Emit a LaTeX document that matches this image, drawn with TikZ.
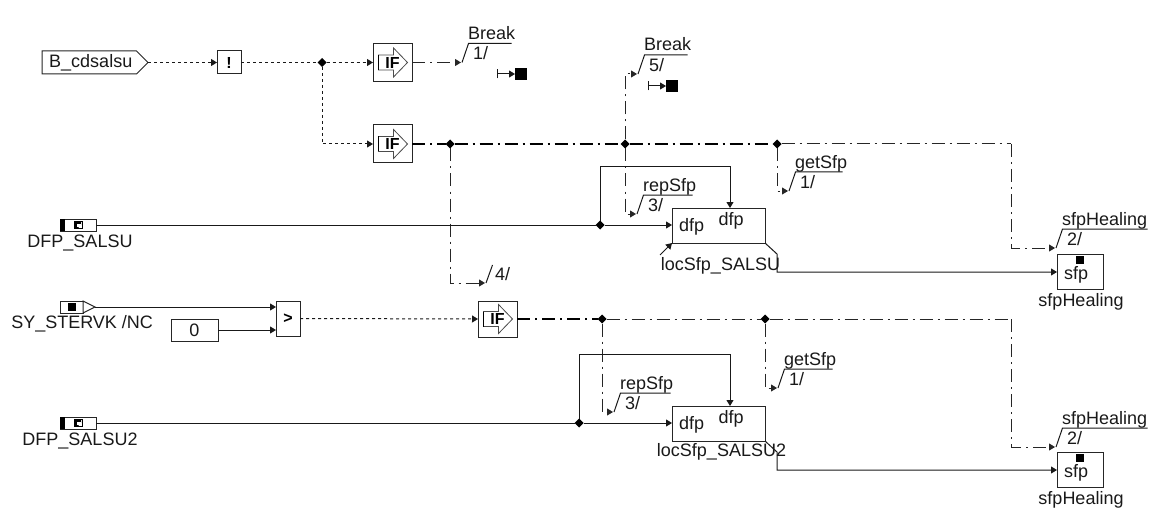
\documentclass[tikz,border=0pt]{standalone}
\usepackage{fontspec}
\setmainfont{Liberation Sans}
\usetikzlibrary{calc,arrows.meta,shapes.symbols,shapes.geometric}
\tikzset{
 fn wire/.style={line width=1pt,draw=black!90},
 fn flow/.style={line width=1pt,draw=black!90,dash pattern=on 3pt off 3pt},
 fn ctrl/.style={line width=1pt,draw=black!85,dash pattern=on 13pt off 5pt on 2pt off 5pt},
 fn bus/.style={fn ctrl,line width=1.4pt,draw=black},
 fn tip/.style={-{Triangle[length=6pt,width=7pt]}},
 fn box/.style={draw=black!85,line width=1pt,fill=white,inner sep=0pt,outer sep=0pt},
 fn junction/.style={diamond,fill=black,minimum size=9pt,inner sep=0pt,outer sep=0pt},
 fn label/.style={font=\fontsize{18}{20}\selectfont,text=black!90,inner sep=0pt,outer sep=0pt},
 fn bold/.style={font=\bfseries\fontsize{16}{18}\selectfont,text=black,inner sep=0pt},
 fn stop/.style={fill=black,minimum size=12pt,inner sep=0pt,outer sep=0pt}
}
% the IF arrow inside a switch box
\newcommand{\ifbox}[3]{%
 \node[fn box,minimum width=39pt,minimum height=#3pt] (#1) at (#2) {};
 \draw[black!70,line width=.8pt,fill=white]
   ($(#1)+(-14,-7.5)$)--($(#1)+(1,-7.5)$)--($(#1)+(1,-14.5)$)--($(#1)+(15,0)$)
   --($(#1)+(1,14.5)$)--($(#1)+(1,7.5)$)--($(#1)+(-14,7.5)$)--cycle;
 \draw[black,line width=1.5pt] ($(#1)+(-14,-7.5)$)--($(#1)+(-14,7.5)$);
 \node[fn bold] at (#1) {IF};
}
\begin{document}
\begin{tikzpicture}[x=1pt,y=-1pt]
 \useasboundingbox (0,0) rectangle (1150,513);
 % inputs
 \node[fn box,signal,signal to=east,signal pointer angle=90,minimum width=106pt,
       minimum height=23pt,fn label,anchor=west] (cdsalsu) at (42,62.5) {\hspace{3pt}B\_cdsalsu};
 \node[fn box,fn bold,minimum width=24pt,minimum height=23pt] (notop) at (229,62.5) {!};
 \draw[fn box] (60,301) rectangle (83,313);
 \draw[fn box] (83,301) -- (95,307) -- (83,313) -- cycle;
 \coordinate (sytip) at (95,307);
 \node[fill=black,minimum size=8pt,inner sep=0pt] (sydot) at (72,307) {};
 \node[fn label,anchor=east] (sylab) at (153,324) {SY\_STERVK /NC};
 \node[fn box,fn label,minimum width=47pt,minimum height=22pt] (zero) at (194.5,330) {0};
 \node[fn box,fn bold,minimum width=24pt,minimum height=35pt] (gtop) at (288,318.5) {>};
 \foreach \n/\y/\t in {salsu/225/DFP\_SALSU,salsub/423/DFP\_SALSU2}{
   \node[fn box,minimum width=36pt,minimum height=12pt] (dfp\n) at (78,\y) {};
   \fill (60,\y-6) rectangle (65,\y+6);
   \draw[black,line width=1pt,fill=white] (74,\y-3.5) rectangle (82,\y+3.5);
   \fill (75,\y-3) -- (81,\y-3) -- (81,\y) -- (78,\y+3) -- (75,\y+3) -- cycle;
   \fill[white] (77,\y-1) rectangle (81,\y+1.5);
   \node[fn label] (lab\n) at (80,\y+18) {\t};
 }
 % switches
 \ifbox{ifa}{392.5,62.5}{38}
 \ifbox{ifb}{392.5,144}{38}
 \ifbox{ifc}{497.5,319}{36}
 % hierarchy marks
 \foreach \n/\x/\y/\w/\t/\k in {brka/461/62.5/43/Break/1,brkb/637/74/43/Break/5,
     geta/788/191/47/getSfp/1,repa/636/214/49/repSfp/3,sfpa/1055/248/85/sfpHealing/2,
     getb/777/388/48/getSfp/1,repb/613/412/50/repSfp/3,sfpb/1055/447/85/sfpHealing/2}{
   \coordinate (h\n) at (\x,\y);
   \draw[fn wire] (\x+1,\y) -- (\x+7.5,\y-19) -- (\x+7.5+\w,\y-19);
   \node[fn label,anchor=base west] (t\n) at (\x+7,\y-23) {\t};
   \node[fn label,anchor=west] (k\n) at (\x+12,\y-9) {\k/};
 }
 \coordinate (hfour) at (485,283);
 \draw[fn wire] (486,283) -- (492.5,265);
 \node[fn label,anchor=west] (kfour) at (495,274) {4/};
 % stops
 \foreach \n/\x/\y in {a/521/74,b/672/86}{
   \node[fn stop] (stop\n) at (\x,\y) {};
   \coordinate (bar\n) at (\x-24,\y);
   \draw[fn wire,{Bar[width=9pt,length=0pt]}-{Triangle[length=6pt,width=7pt]}] (bar\n) -- (stop\n.west);
 }
 % junctions
 \coordinate (rima) at (1011,144);
 \coordinate (rimb) at (1011,319);
 \foreach \n/\x/\y in {ja/322/62.5,jb/450/144,jc/625/144,jd/777/144,je/600/225,
                       jf/602/319,jg/765/319,jh/579/423}{
   \node[fn junction] (\n) at (\x,\y) {};
 }
 % control flow
 \draw[fn ctrl,fn tip] (ifa.east) -- (hbrka);
 \draw[fn ctrl] (jd) -- (rima);
 \draw[fn ctrl,fn tip] (rima) |- (hsfpa);
 \draw[fn ctrl,fn tip] (jb) |- (hfour);
 \draw[fn ctrl,fn tip] (jc) |- (hbrkb);
 \draw[fn ctrl,fn tip] (jc) |- (hrepa);
 \draw[fn ctrl,fn tip] (jd) |- (hgeta);
 \draw[fn ctrl] (jg) -- (rimb);
 \draw[fn ctrl,fn tip] (rimb) |- (hsfpb);
 \draw[fn ctrl,fn tip] (jf) |- (hrepb);
 \draw[fn ctrl,fn tip] (jg) |- (hgetb);
 \draw[fn bus] (ifb.east) -- (jb) -- (jc) -- (jd);
 \draw[fn bus] (ifc.east) -- (jf);
 \draw[fn ctrl] (jf) -- (jg);
 % computation blocks, their loops, their outputs and the targets
 \foreach \n/\y/\j/\t/\lx/\ly/\o/\lt/\e/\s in {
     a/225/je/locSfp\_SALSU/720.5/266/salsu/167/272/271.5,
     b/423/jh/locSfp\_SALSU2/721.5/452/salsub/354/470/469.5}{
   \coordinate (loop\n) at (730,\lt);
   \coordinate (bend\n) at (777,\y+29);
   \coordinate (out\n) at (777,\e);
   \node[fn box,minimum width=93pt,minimum height=35pt] (blk\n) at (718.5,\y+0.5) {};
   \node[fn label,anchor=west] (in\n) at (679,\y+2) {dfp};
   \node[fn label] (top\n) at (731,\y-4) {dfp};
   \node[fn label] (loc\n) at (\lx,\ly) {\t};
   \node[fn box,minimum width=46pt,minimum height=35pt] (sfp\n) at (1080,\s) {};
   \node[fill=black,minimum size=8pt,inner sep=0pt] (dot\n) at (1080,\s-12) {};
   \node[fn label] (val\n) at (1076,\s+3) {sfp};
   \node[fn label] (name\n) at (1081,\s+30) {sfpHealing};
   \draw[fn wire,fn tip] (dfp\o.east) -- (\j) -- (blk\n.west |- \j);
   \draw[fn wire,fn tip] (\j) |- (loop\n) -- (loop\n |- blk\n.north);
   \draw[fn wire,fn tip] (blk\n.south east) -- (bend\n) -- (out\n) -- (sfp\n.west |- out\n);
 }
 \coordinate (hook) at (660,255);
 \draw[fn wire,fn tip] (hook) -- (blka.south west);
 % data flow
 \draw[fn flow,fn tip] (cdsalsu.east) -- (notop.west);
 \draw[fn flow] (notop.east) -- (ja);
 \draw[fn flow,fn tip] (ja) -- (ifa.west);
 \draw[fn flow,fn tip] (ja) |- (ifb.west);
 \draw[fn wire,fn tip] (sytip) -- (gtop.west |- sytip);
 \draw[fn wire,fn tip] (zero.east) -- (gtop.west |- zero.east);
 \draw[fn flow,fn tip] (gtop.east) -- (ifc.west);
\end{tikzpicture}
\end{document}
